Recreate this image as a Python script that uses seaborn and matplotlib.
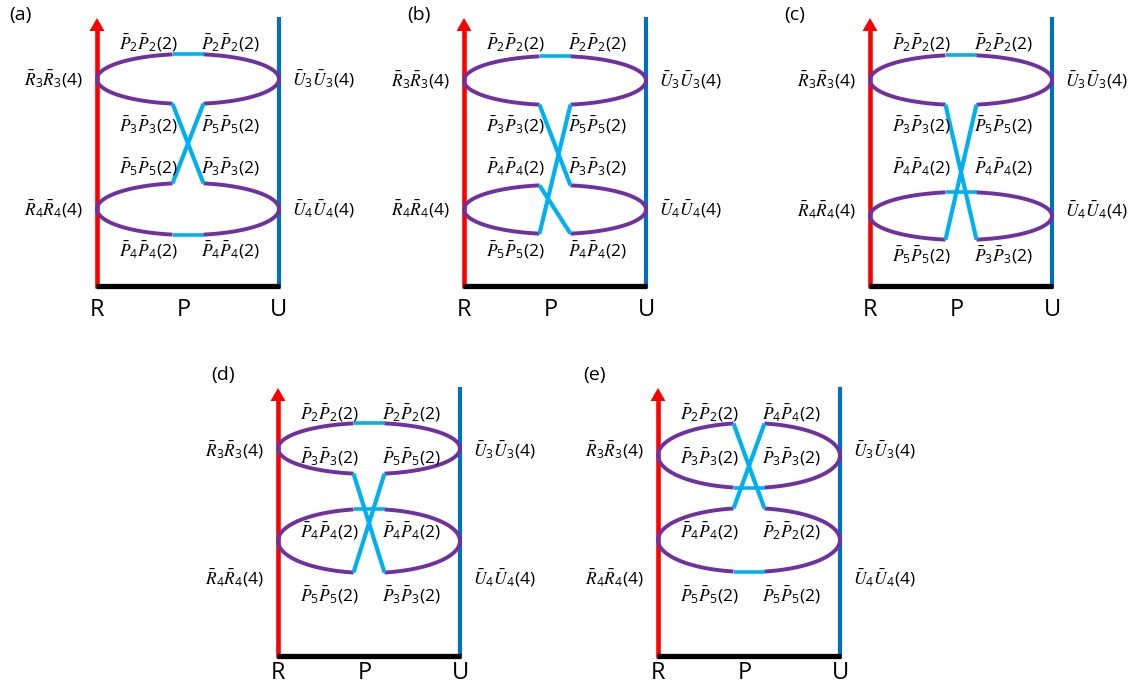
import numpy as np
import matplotlib
matplotlib.use("Agg")
import matplotlib.pyplot as plt
import seaborn as sns

sns.set_theme(style="white")
plt.rcParams["font.family"] = ["Open Sans", "DejaVu Sans"]
plt.rcParams["text.color"] = "black"
plt.rcParams["mathtext.fontset"] = "custom"
plt.rcParams["mathtext.rm"] = "Open Sans"
plt.rcParams["mathtext.it"] = "STIXGeneral:italic"
plt.rcParams["mathtext.bf"] = "Open Sans:bold"
plt.rcParams["lines.solid_capstyle"] = "butt"

W, H = 1136, 688

# ---- panel content -------------------------------------------------------
panel_names = ["(a)", "(b)", "(c)", "(d)", "(e)"]
axis_names = ["R", "P", "U"]

# state labels: index pairs of the paired P-states in four rows (left, right)
pair_subs = [
    [(2, 2), (3, 5), (5, 3), (4, 4)],
    [(2, 2), (3, 5), (4, 3), (5, 4)],
    [(2, 2), (3, 5), (4, 4), (5, 3)],
    [(2, 2), (3, 5), (4, 4), (5, 3)],
    [(2, 4), (3, 3), (4, 2), (5, 5)],
]
side_subs = [(3, 4), (3, 4), (3, 4), (3, 4), (3, 4)]   # R/U levels of the two rings
pair_deg = 2
side_deg = 4

# ring edges: "bar" = closed by a short P-segment, "open" = cut where links leave
ring_edges = [
    {"U top": "bar", "U bot": "open", "L top": "open", "L bot": "bar"},
    {"U top": "bar", "U bot": "open", "L top": "open", "L bot": "open"},
    {"U top": "bar", "U bot": "open", "L top": "bar", "L bot": "open"},
    {"U top": "bar", "U bot": "open", "L top": "bar", "L bot": "open"},
    {"U top": "open", "U bot": "bar", "L top": "open", "L bot": "bar"},
]
# crossing links between cut ends
links = [
    [("U bot L", "L top R"), ("U bot R", "L top L")],
    [("U bot L", "L top R"), ("U bot R", "L bot L"), ("L top L", "L bot R")],
    [("U bot L", "L bot R"), ("U bot R", "L bot L")],
    [("U bot L", "L bot R"), ("U bot R", "L bot L")],
    [("U top L", "L top R"), ("U top R", "L top L")],
]

# ---- layout (pixels) -------------------------------------------------------
panel_x = [97, 464, 870, 278, 658]          # R axis position
panel_y = [0, 0, 0, 370, 370]               # vertical offset of panel
name_pos = [(20, 15), (419, 15), (795, 15), (223, 375), (595, 375)]
span = 182                                  # R to U distance
axis_top, axis_bottom = 17, 286
gap = 15.5
upper_ring = [(79, 25), (80.5, 24.5), (80, 25), (78.5, 25.5), (85.5, 32.5)]
lower_ring = [(209, 26), (209.5, 24.5), (216, 24), (171, 32), (170, 32)]
pair_rows_y = [[43, 125, 167, 250], [43, 125, 167, 250], [43, 125, 167, 255],
               [43, 87, 161, 225], [43, 87, 161, 225]]
side_rows_y = [(79, 209), (80, 209), (80, 210), (80, 208), (80, 208)]
axis_label_y = [310, 310, 310, 303, 303]

C_R, C_U, C_RING, C_P = "#FF0000", "#0070C0", "#7030A0", "#00B0F0"
LABEL_FS = 12.5

fig = plt.figure(figsize=(W / 100, H / 100), dpi=100)
ax = fig.add_axes([0, 0, 1, 1])


def stroke(xs, ys, color, lw, z=2):
    sns.lineplot(x=np.asarray(xs, float), y=np.asarray(ys, float), sort=False,
                 estimator=None, color=color, linewidth=lw, ax=ax,
                 legend=False, zorder=z, solid_capstyle="butt")


def pbar(i):
    return r"$\bar{P}_{%d}\bar{P}_{%d}(%d)$" % (i, i, pair_deg)


for k in range(5):
    x0, y0 = panel_x[k], panel_y[k]
    xr, xu = x0, x0 + span
    ybot = y0 + axis_bottom
    cx = x0 + span / 2
    a = span / 2

    # axes: red R arrow, blue U line, black P base
    stroke([xr, xr], [ybot + 2, y0 + axis_top + 12], C_R, 3.3, z=1)
    ax.fill([xr - 7.5, xr + 7.5, xr], [y0 + axis_top + 14, y0 + axis_top + 14, y0 + axis_top + 1],
            color=C_R, lw=0, zorder=1)
    stroke([xu, xu], [ybot + 2, y0 + axis_top], C_U, 3.0, z=1)
    stroke([xr - 1, xu + 1], [ybot, ybot], "black", 3.8, z=1)

    ends = {}
    for tag, (cy, b) in (("U", upper_ring[k]), ("L", lower_ring[k])):
        cy = y0 + cy
        th0 = np.arccos(gap / a)
        # right arc and left arc of the ring
        t = np.linspace(-th0, th0, 200)
        stroke(cx + a * np.cos(t), cy + b * np.sin(t), C_RING, 2.8)
        t = np.linspace(np.pi - th0, np.pi + th0, 200)
        stroke(cx + a * np.cos(t), cy + b * np.sin(t), C_RING, 2.8)
        dy = b * np.sin(th0)
        for edge, ye in (("top", cy - dy), ("bot", cy + dy)):
            ends[f"{tag} {edge} L"] = (cx - gap, ye)
            ends[f"{tag} {edge} R"] = (cx + gap, ye)
            if ring_edges[k][f"{tag} {edge}"] == "bar":
                stroke([cx - gap, cx + gap], [ye, ye], C_P, 2.6, z=3)

    for p, q in links[k]:
        (xa, ya), (xb, yb) = ends[p], ends[q]
        stroke([xa, xb], [ya, yb], C_P, 3.0, z=3)

    # labels
    for (li, ri), yy in zip(pair_subs[k], pair_rows_y[k]):
        ax.text(x0 + 51.5, y0 + yy, pbar(li), fontsize=LABEL_FS, ha="center", va="center")
        ax.text(x0 + 133.5, y0 + yy, pbar(ri), fontsize=LABEL_FS, ha="center", va="center")
    for lvl, yy in zip(side_subs[k], side_rows_y[k]):
        ax.text(xr - 14, y0 + yy, r"$\bar{R}_{%d}\bar{R}_{%d}(%d)$" % (lvl, lvl, side_deg),
                fontsize=LABEL_FS, ha="right", va="center")
        ax.text(xu + 13, y0 + yy, r"$\bar{U}_{%d}\bar{U}_{%d}(%d)$" % (lvl, lvl, side_deg),
                fontsize=LABEL_FS, ha="left", va="center")
    for name, xx in zip(axis_names, (xr, x0 + 87, xu)):
        ax.text(xx, y0 + axis_label_y[k], name, fontsize=17, ha="center", va="center")
    ax.text(name_pos[k][0], name_pos[k][1], panel_names[k], fontsize=14,
            ha="center", va="center")

ax.set_xlim(0, W)
ax.set_ylim(H, 0)
ax.axis("off")
fig.savefig("out.png", dpi=100, facecolor="white")
